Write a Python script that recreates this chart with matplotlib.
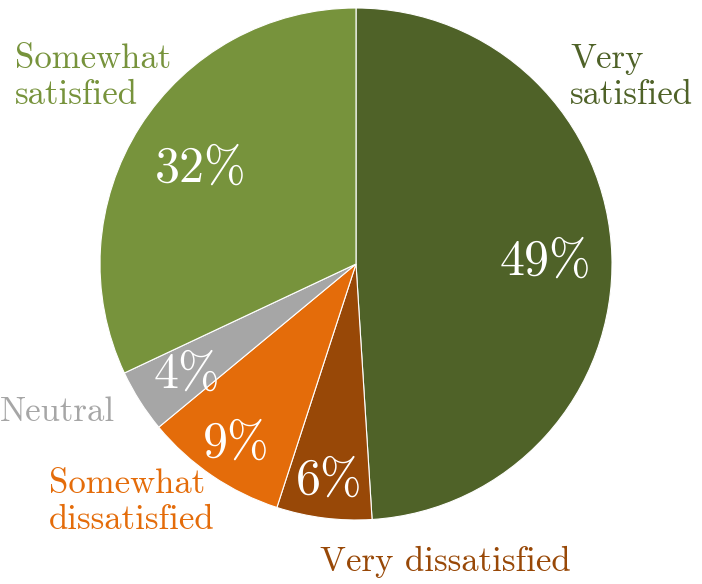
import matplotlib
matplotlib.use('Agg')
import matplotlib.pyplot as plt
import numpy as np

labels = ['Very\nsatisfied', 'Very dissatisfied', 'Somewhat\ndissatisfied',
          'Neutral', 'Somewhat\nsatisfied']
values = [49, 6, 9, 4, 32]
colors = ['#4F6228', '#984807', '#E46C0A', '#A6A6A6', '#77933C']

# where excel put the category labels (data coords, radius = 1)
label_pos = [(0.836, 0.73), (-0.14, -1.165), (-1.20, -0.93),
             (-1.392, -0.58), (-1.333, 0.73)]
pct_r = [0.74, 0.84, 0.83, 0.78, 0.72]

fig = plt.figure(figsize=(7.02, 5.84), dpi=100)
ax = fig.add_axes([0, 0, 1, 1])

wedges, _ = ax.pie(values, colors=colors, startangle=90, counterclock=False,
                   radius=1, center=(0, 0),
                   wedgeprops=dict(edgecolor='white', linewidth=0.8))

total = float(sum(values))
for i, w in enumerate(wedges):
    mid = np.deg2rad((w.theta1 + w.theta2) / 2.0)
    r = pct_r[i]
    ax.text(r * np.cos(mid), r * np.sin(mid) - 0.015,
            '%d%%' % round(values[i] / total * 100),
            color='white', fontsize=36, family='cmr10',
            ha='center', va='center')
    lx, ly = label_pos[i]
    ax.text(lx, ly, labels[i], color=colors[i], fontsize=25, family='cmr10',
            ha='left', va='center', multialignment='left', linespacing=1.2)

ax.set_xlim(-356 / 256.0, (702 - 356) / 256.0)
ax.set_ylim(-(584 - 264) / 256.0, 264 / 256.0)
ax.set_aspect('equal')
ax.axis('off')

fig.savefig('out.png', dpi=100)
